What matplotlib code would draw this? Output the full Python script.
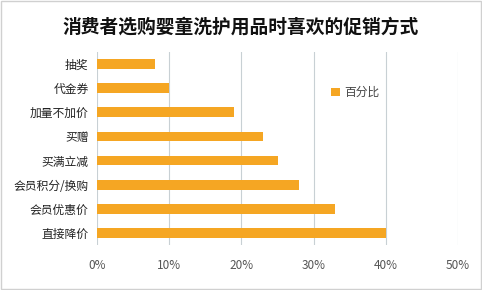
import matplotlib.pyplot as plt
import numpy as np

plt.rcParams['font.family'] = ['Noto Sans CJK SC', 'DejaVu Sans']

# 促销方式及百分比（由上到下）
categories = ['抽奖', '代金券', '加量不加价', '买赠', '买满立减', '会员积分/换购', '会员优惠价', '直接降价']
values = [8, 10, 19, 23, 25, 28, 33, 40]
xticks = [0, 10, 20, 30, 40, 50]
xtick_labels = ['0%', '10%', '20%', '30%', '40%', '50%']

fig = plt.figure(figsize=(4.82, 2.9), dpi=100)
ax = fig.add_axes([97 / 482, 45 / 290, 361 / 482, 193 / 290])

y = np.arange(len(categories))
ax.barh(y, values, height=0.4, color='#F5A623', label='百分比', zorder=3)
ax.set_ylim(len(categories) - 0.5, -0.5)
ax.set_xlim(0, 50)
ax.set_yticks(y)
ax.set_yticklabels(categories, fontsize=8.5, color='#222222')
ax.set_xticks(xticks)
ax.set_xticklabels(xtick_labels, fontsize=8.5, color='#555555')
ax.tick_params(length=0, pad=6)
ax.tick_params(axis='x', pad=10)
ax.grid(axis='x', color='#c8d0d4', linewidth=0.8, zorder=0)
for s in ax.spines.values():
    s.set_visible(False)

ax.legend(loc='upper left', bbox_to_anchor=(0.62, 0.88), frameon=False,
          fontsize=8.5, handlelength=0.7, handleheight=0.7, handletextpad=0.4,
          labelcolor='#444444')

fig.text(0.5, 0.905, '消费者选购婴童洗护用品时喜欢的促销方式', ha='center', va='center',
         fontsize=13.5, fontweight='bold', color='#111111')

# 外框
fig.patches.append(plt.Rectangle((0.003, 0.005), 0.994, 0.99, transform=fig.transFigure,
                                 fill=False, edgecolor='#d0d0d0', linewidth=1))

fig.savefig('out.png', dpi=100)
